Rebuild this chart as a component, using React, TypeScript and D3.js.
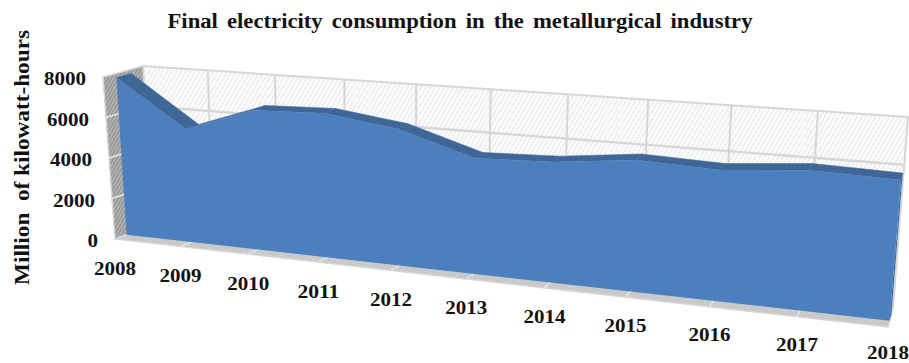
import * as d3 from "d3";

const years = ["2008", "2009", "2010", "2011", "2012", "2013", "2014", "2015", "2016", "2017", "2018"];
const consumption = [7790, 5520, 6700, 6810, 6350, 5300, 5420, 5815, 5690, 5990, 5890];
const valueTicks = [0, 2000, 4000, 6000, 8000];
const backGridValues = [2000, 4000, 6000];

type Pt = [number, number];

// Eight corners of the chart box as seen in the tilted view: [bottom/top] at front and back, left and right.
const box = {
  fl0: [115, 239] as Pt, fl1: [103, 77] as Pt,
  bl0: [150, 226] as Pt, bl1: [143, 66] as Pt,
  fr0: [888, 327] as Pt, fr1: [904, 136] as Pt,
  br0: [893, 308] as Pt, br1: [908, 117] as Pt,
};

const catT = d3.scalePoint<string>().domain(years).range([0, 1]);
const valV = d3.scaleLinear().domain([0, 8000]).range([0, 1]);
const seriesFront = 0.33;
const seriesBack = 0.7;
const foreshorten = 1.2;

const warp = (t: number) => t / (t + foreshorten * (1 - t));
const mix = (a: Pt, b: Pt, k: number): Pt => [a[0] + (b[0] - a[0]) * k, a[1] + (b[1] - a[1]) * k];

// Projects (position along the category axis, depth, height) to the page.
function project(t: number, d: number, v: number): Pt {
  const w = warp(t);
  const bottom = mix(mix(box.fl0, box.fr0, w), mix(box.bl0, box.br0, w), d);
  const top = mix(mix(box.fl1, box.fr1, w), mix(box.bl1, box.br1, w), d);
  return mix(bottom, top, v);
}

const closed = d3.line().curve(d3.curveLinearClosed);
const open = d3.line();

const frontFace = closed([
  ...years.map((y, i) => project(catT(y)!, seriesFront, valV(consumption[i]))),
  project(1, seriesFront, 0),
  project(0, seriesFront, 0),
]);
const topBands = years.slice(1).map((y, i) =>
  closed([
    project(catT(years[i])!, seriesFront, valV(consumption[i])),
    project(catT(years[i])!, seriesBack, valV(consumption[i])),
    project(catT(y)!, seriesBack, valV(consumption[i + 1])),
    project(catT(y)!, seriesFront, valV(consumption[i + 1])),
  ])
);
const endFace = closed([
  project(1, seriesFront, valV(consumption[10])),
  project(1, seriesBack, valV(consumption[10])),
  project(1, seriesBack, 0),
  project(1, seriesFront, 0),
]);

const GRID = "#d6d6d6";
const SERIF = "'Liberation Serif', 'Times New Roman', serif";

export default function App() {
  return (
    <svg width={909} height={363} style={{ position: "absolute", left: 0, top: 0, background: "#fff" }}>
      <defs>
        <pattern id="hatchWall" width={4} height={4} patternUnits="userSpaceOnUse" patternTransform="rotate(30)">
          <rect width={4} height={4} fill="#fcfcfc" />
          <rect width={1.2} height={4} fill="#e8e8e8" />
        </pattern>
        <pattern id="hatchSide" width={3} height={3} patternUnits="userSpaceOnUse" patternTransform="rotate(30)">
          <rect width={3} height={3} fill="#b4b4b4" />
          <rect width={1.2} height={3} fill="#8f8f8f" />
        </pattern>
        <pattern id="hatchFloor" width={3} height={3} patternUnits="userSpaceOnUse" patternTransform="rotate(30)">
          <rect width={3} height={3} fill="#d2d2d2" />
          <rect width={1.2} height={3} fill="#bdbdbd" />
        </pattern>
      </defs>

      <text
        x={460}
        y={28}
        textAnchor="middle"
        fontFamily={SERIF}
        fontWeight="bold"
        fontSize={20}
        wordSpacing={3}
        textLength={585}
        lengthAdjust="spacingAndGlyphs"
        fill="#111"
      >
        Final electricity consumption in the metallurgical industry
      </text>

      {/* Walls and floor */}
      <path d={closed([box.bl0, box.bl1, box.br1, box.br0])!} fill="url(#hatchWall)" stroke={GRID} strokeWidth={2} />
      <path d={closed([box.fl0, box.fl1, box.bl1, box.bl0])!} fill="url(#hatchSide)" stroke={GRID} strokeWidth={1.5} />
      <path d={closed([box.fl0, box.bl0, box.br0, box.fr0])!} fill="url(#hatchFloor)" stroke={GRID} strokeWidth={1.5} />

      {/* Gridlines on each plane */}
      {backGridValues.map((v) => (
        <path key={`b${v}`} d={open([project(0, 1, valV(v)), project(1, 1, valV(v))])!} stroke={GRID} strokeWidth={2.4} fill="none" />
      ))}
      {years.slice(1, -1).map((y) => (
        <path key={`v${y}`} d={open([project(catT(y)!, 1, 0), project(catT(y)!, 1, 1)])!} stroke={GRID} strokeWidth={2} fill="none" />
      ))}
      {backGridValues.map((v) => (
        <path key={`s${v}`} d={open([project(0, 0, valV(v)), project(0, 1, valV(v))])!} stroke="#e6e6e6" strokeWidth={1.5} fill="none" />
      ))}
      {years.slice(1, -1).map((y) => (
        <path key={`f${y}`} d={open([project(catT(y)!, 0, 0), project(catT(y)!, 1, 0)])!} stroke="#e6e6e6" strokeWidth={1.5} fill="none" />
      ))}

      {/* Series ribbon */}
      <path d={endFace!} fill="#3b679c" />
      {topBands.map((d, i) => (
        <path key={i} d={d!} fill="#3e6798" stroke="#3e6798" strokeWidth={0.5} />
      ))}
      <path d={frontFace!} fill="#4c7fbd" />

      {/* Axis labels */}
      {valueTicks.map((v) => {
        const [x, y] = project(0, 0, valV(v));
        const s = String(v);
        return (
          <text key={v} x={x - 17} y={y + 8} textAnchor="end" fontFamily={SERIF} fontWeight="bold" fontSize={19} textLength={s.length * 10.5} lengthAdjust="spacingAndGlyphs" fill="#111">
            {s}
          </text>
        );
      })}
      {years.map((y) => {
        const t = catT(y)!;
        const [x, yy] = project(t, 0, 0);
        return (
          <text key={y} x={x} y={Math.min(yy + 36 - 2 * t, 358.8)} textAnchor="middle" fontFamily={SERIF} fontWeight="bold" fontSize={19} textLength={42} lengthAdjust="spacingAndGlyphs" fill="#111">
            {y}
          </text>
        );
      })}
      <text transform="translate(29,157.5) rotate(-90)" textAnchor="middle" fontFamily={SERIF} fontWeight="bold" fontSize={22} textLength={255} lengthAdjust="spacingAndGlyphs" xmlSpace="preserve" fill="#111">
        Million  of kilowatt-hours
      </text>
    </svg>
  );
}
